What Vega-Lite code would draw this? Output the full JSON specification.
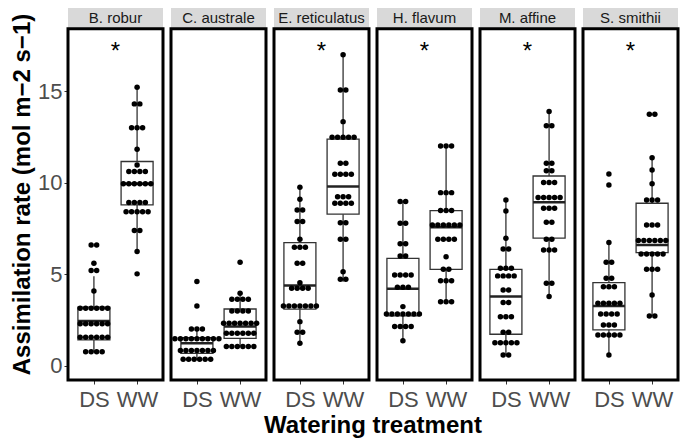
{
  "$schema": "https://vega.github.io/schema/vega-lite/v6.json",
  "padding": {"top": 8, "left": 10, "right": 5, "bottom": 5},
  "bounds": "flush",
  "config": {"font": "Liberation Sans", "view": {"stroke": null}},
  "data": {"values": [
    {"s":"B. robur","star":"*"},{"s":"C. australe","star":""},{"s":"E. reticulatus","star":"*"},{"s":"H. flavum","star":"*"},{"s":"M. affine","star":"*"},{"s":"S. smithii","star":"*"},
    {"s":"B. robur","t":"DS","lo":0.78,"q1":1.42,"med":2.46,"q3":3.21,"hi":4.9},
    {"s":"B. robur","t":"WW","lo":6.25,"q1":8.8,"med":9.95,"q3":11.17,"hi":15.1},
    {"s":"C. australe","t":"DS","lo":0.33,"q1":0.68,"med":1.24,"q3":1.55,"hi":2.05},
    {"s":"C. australe","t":"WW","lo":1.06,"q1":1.51,"med":2.15,"q3":3.11,"hi":3.97},
    {"s":"E. reticulatus","t":"DS","lo":1.24,"q1":3.1,"med":4.39,"q3":6.74,"hi":9.76},
    {"s":"E. reticulatus","t":"WW","lo":4.6,"q1":8.29,"med":9.8,"q3":12.39,"hi":17.0},
    {"s":"H. flavum","t":"DS","lo":1.38,"q1":2.73,"med":4.22,"q3":5.88,"hi":8.98},
    {"s":"H. flavum","t":"WW","lo":3.52,"q1":5.28,"med":7.58,"q3":8.49,"hi":12.02},
    {"s":"M. affine","t":"DS","lo":0.6,"q1":1.73,"med":3.79,"q3":5.28,"hi":9.07},
    {"s":"M. affine","t":"WW","lo":3.79,"q1":6.98,"med":8.94,"q3":10.38,"hi":13.9},
    {"s":"S. smithii","t":"DS","lo":0.6,"q1":1.97,"med":3.28,"q3":4.55,"hi":6.74},
    {"s":"S. smithii","t":"WW","lo":2.73,"q1":6.19,"med":6.61,"q3":8.89,"hi":11.38},

    {"s":"B. robur","t":"DS","v":6.61},{"s":"B. robur","t":"DS","v":6.61},{"s":"B. robur","t":"DS","v":5.61},{"s":"B. robur","t":"DS","v":5.21},{"s":"B. robur","t":"DS","v":5.21},{"s":"B. robur","t":"DS","v":4.1},
    {"s":"B. robur","t":"DS","v":3.15},{"s":"B. robur","t":"DS","v":3.15},{"s":"B. robur","t":"DS","v":3.15},{"s":"B. robur","t":"DS","v":3.15},{"s":"B. robur","t":"DS","v":3.15},{"s":"B. robur","t":"DS","v":3.15},
    {"s":"B. robur","t":"DS","v":2.3},{"s":"B. robur","t":"DS","v":2.3},{"s":"B. robur","t":"DS","v":2.3},{"s":"B. robur","t":"DS","v":2.3},{"s":"B. robur","t":"DS","v":2.3},{"s":"B. robur","t":"DS","v":2.3},
    {"s":"B. robur","t":"DS","v":1.57},{"s":"B. robur","t":"DS","v":1.57},{"s":"B. robur","t":"DS","v":1.57},{"s":"B. robur","t":"DS","v":1.57},{"s":"B. robur","t":"DS","v":1.57},{"s":"B. robur","t":"DS","v":1.57},
    {"s":"B. robur","t":"DS","v":0.78},{"s":"B. robur","t":"DS","v":0.78},{"s":"B. robur","t":"DS","v":0.78},{"s":"B. robur","t":"DS","v":0.78},

    {"s":"B. robur","t":"WW","v":15.23},{"s":"B. robur","t":"WW","v":14.32},{"s":"B. robur","t":"WW","v":14.32},{"s":"B. robur","t":"WW","v":13.02},{"s":"B. robur","t":"WW","v":13.02},{"s":"B. robur","t":"WW","v":13.02},
    {"s":"B. robur","t":"WW","v":11.84},{"s":"B. robur","t":"WW","v":10.98},
    {"s":"B. robur","t":"WW","v":10.62},{"s":"B. robur","t":"WW","v":10.62},{"s":"B. robur","t":"WW","v":10.62},{"s":"B. robur","t":"WW","v":10.62},
    {"s":"B. robur","t":"WW","v":9.95},{"s":"B. robur","t":"WW","v":9.95},{"s":"B. robur","t":"WW","v":9.95},{"s":"B. robur","t":"WW","v":9.95},{"s":"B. robur","t":"WW","v":9.95},{"s":"B. robur","t":"WW","v":9.95},
    {"s":"B. robur","t":"WW","v":8.93},{"s":"B. robur","t":"WW","v":8.93},{"s":"B. robur","t":"WW","v":8.93},{"s":"B. robur","t":"WW","v":8.93},
    {"s":"B. robur","t":"WW","v":8.43},{"s":"B. robur","t":"WW","v":8.43},{"s":"B. robur","t":"WW","v":8.43},{"s":"B. robur","t":"WW","v":8.43},{"s":"B. robur","t":"WW","v":8.43},
    {"s":"B. robur","t":"WW","v":7.4},{"s":"B. robur","t":"WW","v":7.4},{"s":"B. robur","t":"WW","v":6.25},{"s":"B. robur","t":"WW","v":5.03},

    {"s":"C. australe","t":"DS","v":4.61},{"s":"C. australe","t":"DS","v":3.28},
    {"s":"C. australe","t":"DS","v":2.02},{"s":"C. australe","t":"DS","v":2.02},{"s":"C. australe","t":"DS","v":2.02},
    {"s":"C. australe","t":"DS","v":1.48},{"s":"C. australe","t":"DS","v":1.48},{"s":"C. australe","t":"DS","v":1.48},{"s":"C. australe","t":"DS","v":1.48},{"s":"C. australe","t":"DS","v":1.48},{"s":"C. australe","t":"DS","v":1.48},{"s":"C. australe","t":"DS","v":1.48},{"s":"C. australe","t":"DS","v":1.48},{"s":"C. australe","t":"DS","v":1.48},
    {"s":"C. australe","t":"DS","v":0.84},{"s":"C. australe","t":"DS","v":0.84},{"s":"C. australe","t":"DS","v":0.84},{"s":"C. australe","t":"DS","v":0.84},{"s":"C. australe","t":"DS","v":0.84},{"s":"C. australe","t":"DS","v":0.84},{"s":"C. australe","t":"DS","v":0.84},
    {"s":"C. australe","t":"DS","v":0.37},{"s":"C. australe","t":"DS","v":0.37},{"s":"C. australe","t":"DS","v":0.37},{"s":"C. australe","t":"DS","v":0.37},{"s":"C. australe","t":"DS","v":0.37},{"s":"C. australe","t":"DS","v":0.37},

    {"s":"C. australe","t":"WW","v":5.66},{"s":"C. australe","t":"WW","v":3.97},
    {"s":"C. australe","t":"WW","v":3.64},{"s":"C. australe","t":"WW","v":3.64},{"s":"C. australe","t":"WW","v":3.64},{"s":"C. australe","t":"WW","v":3.64},
    {"s":"C. australe","t":"WW","v":3.0},{"s":"C. australe","t":"WW","v":3.0},{"s":"C. australe","t":"WW","v":3.0},{"s":"C. australe","t":"WW","v":3.0},
    {"s":"C. australe","t":"WW","v":2.33},{"s":"C. australe","t":"WW","v":2.33},{"s":"C. australe","t":"WW","v":2.33},{"s":"C. australe","t":"WW","v":2.33},{"s":"C. australe","t":"WW","v":2.33},{"s":"C. australe","t":"WW","v":2.33},{"s":"C. australe","t":"WW","v":2.33},
    {"s":"C. australe","t":"WW","v":1.79},{"s":"C. australe","t":"WW","v":1.79},{"s":"C. australe","t":"WW","v":1.79},{"s":"C. australe","t":"WW","v":1.79},{"s":"C. australe","t":"WW","v":1.79},{"s":"C. australe","t":"WW","v":1.79},
    {"s":"C. australe","t":"WW","v":1.06},{"s":"C. australe","t":"WW","v":1.06},{"s":"C. australe","t":"WW","v":1.06},{"s":"C. australe","t":"WW","v":1.06},{"s":"C. australe","t":"WW","v":1.06},{"s":"C. australe","t":"WW","v":1.06},

    {"s":"E. reticulatus","t":"DS","v":9.76},{"s":"E. reticulatus","t":"DS","v":9.11},{"s":"E. reticulatus","t":"DS","v":8.52},{"s":"E. reticulatus","t":"DS","v":8.52},
    {"s":"E. reticulatus","t":"DS","v":7.89},{"s":"E. reticulatus","t":"DS","v":7.89},{"s":"E. reticulatus","t":"DS","v":6.92},
    {"s":"E. reticulatus","t":"DS","v":6.48},{"s":"E. reticulatus","t":"DS","v":6.48},{"s":"E. reticulatus","t":"DS","v":6.48},
    {"s":"E. reticulatus","t":"DS","v":5.61},{"s":"E. reticulatus","t":"DS","v":5.61},{"s":"E. reticulatus","t":"DS","v":4.55},
    {"s":"E. reticulatus","t":"DS","v":4.24},{"s":"E. reticulatus","t":"DS","v":4.24},{"s":"E. reticulatus","t":"DS","v":4.24},{"s":"E. reticulatus","t":"DS","v":4.24},
    {"s":"E. reticulatus","t":"DS","v":3.28},{"s":"E. reticulatus","t":"DS","v":3.28},{"s":"E. reticulatus","t":"DS","v":3.28},{"s":"E. reticulatus","t":"DS","v":3.28},{"s":"E. reticulatus","t":"DS","v":3.28},{"s":"E. reticulatus","t":"DS","v":3.28},{"s":"E. reticulatus","t":"DS","v":3.28},
    {"s":"E. reticulatus","t":"DS","v":2.42},{"s":"E. reticulatus","t":"DS","v":1.84},{"s":"E. reticulatus","t":"DS","v":1.84},{"s":"E. reticulatus","t":"DS","v":1.24},

    {"s":"E. reticulatus","t":"WW","v":17.0},{"s":"E. reticulatus","t":"WW","v":15.08},{"s":"E. reticulatus","t":"WW","v":15.08},{"s":"E. reticulatus","t":"WW","v":13.35},
    {"s":"E. reticulatus","t":"WW","v":12.5},{"s":"E. reticulatus","t":"WW","v":12.5},{"s":"E. reticulatus","t":"WW","v":12.5},{"s":"E. reticulatus","t":"WW","v":12.5},{"s":"E. reticulatus","t":"WW","v":12.5},
    {"s":"E. reticulatus","t":"WW","v":11.07},{"s":"E. reticulatus","t":"WW","v":11.07},
    {"s":"E. reticulatus","t":"WW","v":10.47},{"s":"E. reticulatus","t":"WW","v":10.47},{"s":"E. reticulatus","t":"WW","v":10.47},{"s":"E. reticulatus","t":"WW","v":10.47},
    {"s":"E. reticulatus","t":"WW","v":9.25},{"s":"E. reticulatus","t":"WW","v":9.25},{"s":"E. reticulatus","t":"WW","v":9.25},
    {"s":"E. reticulatus","t":"WW","v":8.89},{"s":"E. reticulatus","t":"WW","v":8.89},{"s":"E. reticulatus","t":"WW","v":8.89},{"s":"E. reticulatus","t":"WW","v":8.89},
    {"s":"E. reticulatus","t":"WW","v":7.83},{"s":"E. reticulatus","t":"WW","v":7.83},{"s":"E. reticulatus","t":"WW","v":6.92},{"s":"E. reticulatus","t":"WW","v":6.92},
    {"s":"E. reticulatus","t":"WW","v":5.15},{"s":"E. reticulatus","t":"WW","v":4.74},{"s":"E. reticulatus","t":"WW","v":4.74},

    {"s":"H. flavum","t":"DS","v":8.98},{"s":"H. flavum","t":"DS","v":8.98},{"s":"H. flavum","t":"DS","v":7.8},{"s":"H. flavum","t":"DS","v":7.8},
    {"s":"H. flavum","t":"DS","v":6.67},{"s":"H. flavum","t":"DS","v":6.67},{"s":"H. flavum","t":"DS","v":6.01},{"s":"H. flavum","t":"DS","v":6.01},
    {"s":"H. flavum","t":"DS","v":4.97},{"s":"H. flavum","t":"DS","v":4.97},{"s":"H. flavum","t":"DS","v":4.97},{"s":"H. flavum","t":"DS","v":4.97},
    {"s":"H. flavum","t":"DS","v":4.3},{"s":"H. flavum","t":"DS","v":4.3},{"s":"H. flavum","t":"DS","v":4.3},{"s":"H. flavum","t":"DS","v":3.24},
    {"s":"H. flavum","t":"DS","v":2.84},{"s":"H. flavum","t":"DS","v":2.84},{"s":"H. flavum","t":"DS","v":2.84},{"s":"H. flavum","t":"DS","v":2.84},{"s":"H. flavum","t":"DS","v":2.84},{"s":"H. flavum","t":"DS","v":2.84},{"s":"H. flavum","t":"DS","v":2.84},
    {"s":"H. flavum","t":"DS","v":2.15},{"s":"H. flavum","t":"DS","v":2.15},{"s":"H. flavum","t":"DS","v":2.15},{"s":"H. flavum","t":"DS","v":2.15},{"s":"H. flavum","t":"DS","v":1.38},

    {"s":"H. flavum","t":"WW","v":12.02},{"s":"H. flavum","t":"WW","v":12.02},{"s":"H. flavum","t":"WW","v":12.02},
    {"s":"H. flavum","t":"WW","v":9.47},{"s":"H. flavum","t":"WW","v":9.47},{"s":"H. flavum","t":"WW","v":9.47},
    {"s":"H. flavum","t":"WW","v":8.49},{"s":"H. flavum","t":"WW","v":8.49},{"s":"H. flavum","t":"WW","v":8.49},
    {"s":"H. flavum","t":"WW","v":7.7},{"s":"H. flavum","t":"WW","v":7.7},{"s":"H. flavum","t":"WW","v":7.7},{"s":"H. flavum","t":"WW","v":7.7},{"s":"H. flavum","t":"WW","v":7.7},{"s":"H. flavum","t":"WW","v":7.7},
    {"s":"H. flavum","t":"WW","v":6.92},{"s":"H. flavum","t":"WW","v":6.92},{"s":"H. flavum","t":"WW","v":6.92},{"s":"H. flavum","t":"WW","v":6.92},
    {"s":"H. flavum","t":"WW","v":5.97},{"s":"H. flavum","t":"WW","v":5.28},{"s":"H. flavum","t":"WW","v":5.28},
    {"s":"H. flavum","t":"WW","v":4.66},{"s":"H. flavum","t":"WW","v":4.66},{"s":"H. flavum","t":"WW","v":4.66},
    {"s":"H. flavum","t":"WW","v":3.51},{"s":"H. flavum","t":"WW","v":3.51},{"s":"H. flavum","t":"WW","v":3.51},

    {"s":"M. affine","t":"DS","v":9.07},{"s":"M. affine","t":"DS","v":8.47},{"s":"M. affine","t":"DS","v":6.98},{"s":"M. affine","t":"DS","v":6.39},{"s":"M. affine","t":"DS","v":6.39},
    {"s":"M. affine","t":"DS","v":5.34},{"s":"M. affine","t":"DS","v":5.34},{"s":"M. affine","t":"DS","v":5.34},
    {"s":"M. affine","t":"DS","v":4.92},{"s":"M. affine","t":"DS","v":4.92},{"s":"M. affine","t":"DS","v":4.92},{"s":"M. affine","t":"DS","v":4.92},
    {"s":"M. affine","t":"DS","v":4.15},{"s":"M. affine","t":"DS","v":4.15},{"s":"M. affine","t":"DS","v":3.46},{"s":"M. affine","t":"DS","v":3.46},
    {"s":"M. affine","t":"DS","v":2.69},{"s":"M. affine","t":"DS","v":2.69},{"s":"M. affine","t":"DS","v":2.69},{"s":"M. affine","t":"DS","v":1.84},{"s":"M. affine","t":"DS","v":1.84},
    {"s":"M. affine","t":"DS","v":1.27},{"s":"M. affine","t":"DS","v":1.27},{"s":"M. affine","t":"DS","v":1.27},{"s":"M. affine","t":"DS","v":1.27},{"s":"M. affine","t":"DS","v":1.27},
    {"s":"M. affine","t":"DS","v":0.6},{"s":"M. affine","t":"DS","v":0.6},

    {"s":"M. affine","t":"WW","v":13.9},{"s":"M. affine","t":"WW","v":13.13},{"s":"M. affine","t":"WW","v":13.13},
    {"s":"M. affine","t":"WW","v":11.07},{"s":"M. affine","t":"WW","v":11.07},{"s":"M. affine","t":"WW","v":10.67},{"s":"M. affine","t":"WW","v":10.67},
    {"s":"M. affine","t":"WW","v":10.02},{"s":"M. affine","t":"WW","v":10.02},{"s":"M. affine","t":"WW","v":10.02},
    {"s":"M. affine","t":"WW","v":9.2},{"s":"M. affine","t":"WW","v":9.2},{"s":"M. affine","t":"WW","v":9.2},{"s":"M. affine","t":"WW","v":9.2},{"s":"M. affine","t":"WW","v":9.2},
    {"s":"M. affine","t":"WW","v":8.62},{"s":"M. affine","t":"WW","v":8.62},{"s":"M. affine","t":"WW","v":8.62},
    {"s":"M. affine","t":"WW","v":7.85},{"s":"M. affine","t":"WW","v":7.85},{"s":"M. affine","t":"WW","v":6.92},{"s":"M. affine","t":"WW","v":6.92},
    {"s":"M. affine","t":"WW","v":6.34},{"s":"M. affine","t":"WW","v":6.34},{"s":"M. affine","t":"WW","v":6.34},
    {"s":"M. affine","t":"WW","v":4.52},{"s":"M. affine","t":"WW","v":4.52},{"s":"M. affine","t":"WW","v":3.79},

    {"s":"S. smithii","t":"DS","v":10.49},{"s":"S. smithii","t":"DS","v":9.89},{"s":"S. smithii","t":"DS","v":6.74},{"s":"S. smithii","t":"DS","v":5.67},{"s":"S. smithii","t":"DS","v":5.67},
    {"s":"S. smithii","t":"DS","v":4.79},{"s":"S. smithii","t":"DS","v":4.79},{"s":"S. smithii","t":"DS","v":4.33},{"s":"S. smithii","t":"DS","v":4.33},{"s":"S. smithii","t":"DS","v":4.33},
    {"s":"S. smithii","t":"DS","v":3.42},{"s":"S. smithii","t":"DS","v":3.42},{"s":"S. smithii","t":"DS","v":3.42},{"s":"S. smithii","t":"DS","v":3.42},{"s":"S. smithii","t":"DS","v":3.42},
    {"s":"S. smithii","t":"DS","v":2.84},{"s":"S. smithii","t":"DS","v":2.84},{"s":"S. smithii","t":"DS","v":2.84},{"s":"S. smithii","t":"DS","v":2.84},
    {"s":"S. smithii","t":"DS","v":2.24},{"s":"S. smithii","t":"DS","v":2.24},{"s":"S. smithii","t":"DS","v":2.24},
    {"s":"S. smithii","t":"DS","v":1.69},{"s":"S. smithii","t":"DS","v":1.69},{"s":"S. smithii","t":"DS","v":1.69},{"s":"S. smithii","t":"DS","v":1.69},{"s":"S. smithii","t":"DS","v":1.69},
    {"s":"S. smithii","t":"DS","v":0.6},

    {"s":"S. smithii","t":"WW","v":13.75},{"s":"S. smithii","t":"WW","v":13.75},{"s":"S. smithii","t":"WW","v":11.38},{"s":"S. smithii","t":"WW","v":10.71},{"s":"S. smithii","t":"WW","v":9.95},
    {"s":"S. smithii","t":"WW","v":9.07},{"s":"S. smithii","t":"WW","v":9.07},{"s":"S. smithii","t":"WW","v":9.07},
    {"s":"S. smithii","t":"WW","v":7.7},{"s":"S. smithii","t":"WW","v":7.7},{"s":"S. smithii","t":"WW","v":7.7},
    {"s":"S. smithii","t":"WW","v":6.85},{"s":"S. smithii","t":"WW","v":6.85},{"s":"S. smithii","t":"WW","v":6.85},{"s":"S. smithii","t":"WW","v":6.85},{"s":"S. smithii","t":"WW","v":6.85},{"s":"S. smithii","t":"WW","v":6.85},
    {"s":"S. smithii","t":"WW","v":6.12},{"s":"S. smithii","t":"WW","v":6.12},{"s":"S. smithii","t":"WW","v":6.12},{"s":"S. smithii","t":"WW","v":6.12},{"s":"S. smithii","t":"WW","v":6.12},
    {"s":"S. smithii","t":"WW","v":5.28},{"s":"S. smithii","t":"WW","v":5.28},{"s":"S. smithii","t":"WW","v":5.28},
    {"s":"S. smithii","t":"WW","v":3.88},{"s":"S. smithii","t":"WW","v":2.73},{"s":"S. smithii","t":"WW","v":2.73}
  ]},
  "facet": {
    "column": {
      "field": "s", "type": "nominal", "title": "Watering treatment",
      "header": {"labels": false, "titleOrient": "bottom", "titleFontSize": 24, "titleFontWeight": "bold", "titleColor": "black", "titlePadding": -6}
    }
  },
  "spacing": 8,
  "spec": {
    "width": 95,
    "height": 372,
    "encoding": {
      "y": {
        "type": "quantitative",
        "scale": {"domain": [-0.77, 19.56], "nice": false, "zero": false},
        "axis": {"values": [0, 5, 10, 15], "domain": false, "grid": false, "labelFontSize": 22, "labelColor": "#4d4d4d", "tickColor": "#333333", "tickSize": 4, "labelPadding": 2, "title": "Assimilation rate (mol m−2 s−1)", "titleFontSize": 24, "titleFontWeight": "bold", "titleColor": "black", "titlePadding": 3}
      }
    },
    "layer": [
      {
        "transform": [{"filter": "isValid(datum.star)"}],
        "mark": {"type": "rect", "color": "#d9d9d9"},
        "encoding": {"y": {"datum": 18.42, "type": "quantitative"}, "y2": {"datum": 19.56}}
      },
      {
        "transform": [{"filter": "isValid(datum.star)"}],
        "mark": {"type": "text", "fontSize": 15, "color": "#1a1a1a", "baseline": "middle"},
        "encoding": {"y": {"datum": 18.99, "type": "quantitative"}, "text": {"field": "s"}}
      },
      {
        "transform": [{"filter": "isValid(datum.star)"}],
        "mark": {"type": "text", "fontSize": 24, "color": "black", "baseline": "alphabetic"},
        "encoding": {"y": {"datum": 16.75, "type": "quantitative"}, "text": {"field": "star"}}
      },
      {
        "transform": [{"filter": "isValid(datum.q1)"}],
        "mark": {"type": "rule", "color": "#333333", "strokeWidth": 1.3},
        "encoding": {
          "x": {"field": "t", "type": "nominal", "scale": {"type": "point", "padding": 0.6}, "axis": {"title": null, "domain": false, "labelAngle": 0, "labelFontSize": 22, "labelColor": "#4d4d4d", "tickColor": "#333333", "tickSize": 4, "labelPadding": 5}},
          "y": {"field": "lo", "type": "quantitative"},
          "y2": {"field": "hi"}
        }
      },
      {
        "transform": [{"filter": "isValid(datum.q1)"}],
        "mark": {"type": "bar", "width": 32, "fill": "white", "stroke": "#333333", "strokeWidth": 1.3},
        "encoding": {
          "x": {"field": "t", "type": "nominal"},
          "y": {"field": "q1", "type": "quantitative"},
          "y2": {"field": "q3"}
        }
      },
      {
        "transform": [{"filter": "isValid(datum.q1)"}],
        "mark": {"type": "tick", "size": 32, "thickness": 2.5, "color": "#222222", "opacity": 1},
        "encoding": {
          "x": {"field": "t", "type": "nominal"},
          "y": {"field": "med", "type": "quantitative"}
        }
      },
      {
        "transform": [
          {"filter": "isValid(datum.v)"},
          {"window": [{"op": "row_number", "as": "rn"}], "groupby": ["s", "t", "v"]},
          {"joinaggregate": [{"op": "count", "as": "n"}], "groupby": ["s", "t", "v"]},
          {"calculate": "(datum.rn - (datum.n + 1) / 2) * 5.5", "as": "off"}
        ],
        "mark": {"type": "circle", "color": "black", "size": 30, "opacity": 1},
        "encoding": {
          "x": {"field": "t", "type": "nominal"},
          "xOffset": {"field": "off", "type": "quantitative", "scale": {"domain": [-40, 40], "range": [-40, 40]}},
          "y": {"field": "v", "type": "quantitative"}
        }
      },
      {
        "transform": [{"filter": "isValid(datum.star)"}],
        "mark": {"type": "rect", "fill": null, "fillOpacity": 0, "stroke": "black", "strokeWidth": 3},
        "encoding": {"y": {"datum": -0.77, "type": "quantitative"}, "y2": {"datum": 18.42}}
      }
    ]
  }
}
